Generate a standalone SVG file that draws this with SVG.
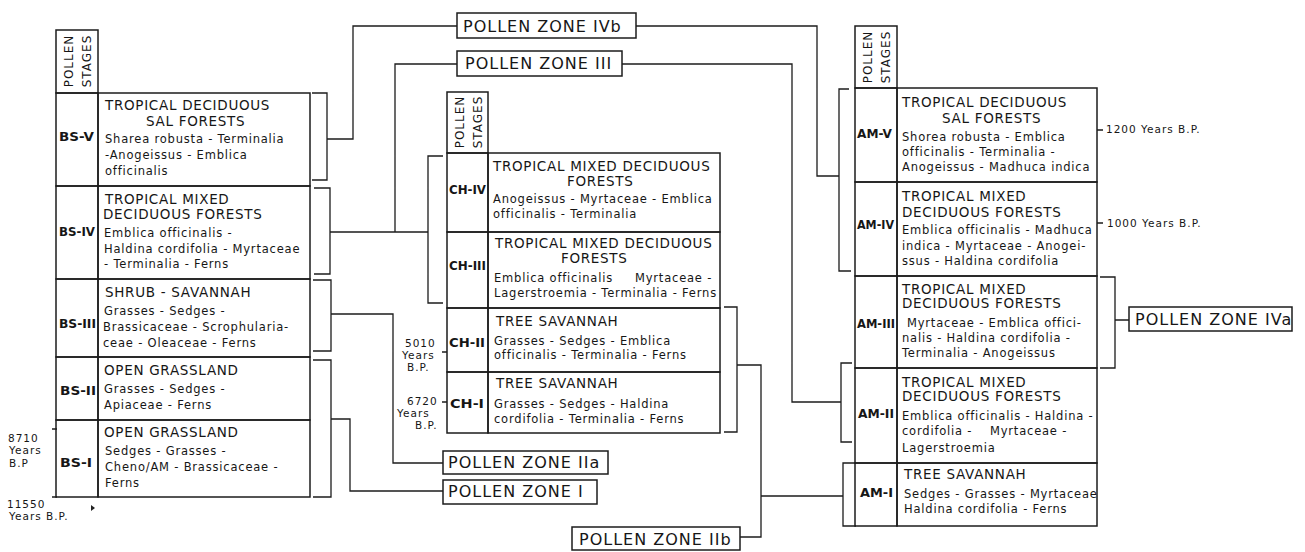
<svg xmlns="http://www.w3.org/2000/svg" width="1305" height="552" viewBox="0 0 1305 552">
<style>
.bx{fill:none;stroke:#1c1c1c;stroke-width:1.5}
.ln{fill:none;stroke:#1c1c1c;stroke-width:1.3}
text{font-family:"DejaVu Sans","Liberation Sans",sans-serif;fill:#161616}
.h{font-size:13.5px;letter-spacing:0.7px}
.s{font-size:11.5px;letter-spacing:0.8px}
.lab{font-size:12.5px;font-weight:bold}
.z{font-size:16px;letter-spacing:1px}
.t{font-size:10.5px;letter-spacing:1px}
.ps{font-size:12px;letter-spacing:1px}
</style>
<rect width="1305" height="552" fill="#fff"/>

<!-- POLLEN STAGES headers -->
<g id="stages-bs">
<rect class="bx" x="56" y="30" width="42" height="63"/>
<text class="ps" font-size="12" transform="translate(73,61) rotate(-90)" text-anchor="middle">POLLEN</text>
<text class="ps" font-size="12" transform="translate(91,61) rotate(-90)" text-anchor="middle">STAGES</text>
</g>
<g id="stages-ch">
<rect class="bx" x="447" y="92" width="41" height="61"/>
<text class="ps" font-size="12" transform="translate(464,122) rotate(-90)" text-anchor="middle">POLLEN</text>
<text class="ps" font-size="12" transform="translate(482,122) rotate(-90)" text-anchor="middle">STAGES</text>
</g>
<g id="stages-am">
<rect class="bx" x="855" y="26" width="42" height="62"/>
<text class="ps" font-size="12" transform="translate(872,57) rotate(-90)" text-anchor="middle">POLLEN</text>
<text class="ps" font-size="12" transform="translate(890,57) rotate(-90)" text-anchor="middle">STAGES</text>
</g>

<!-- BS column -->
<g id="bs-v">
<rect class="bx" x="56" y="93" width="42" height="93"/><rect class="bx" x="98" y="93" width="212" height="93"/>
<text class="lab" x="59" y="141" textLength="35" lengthAdjust="spacingAndGlyphs">BS-V</text>
<text class="h" x="105" y="110">TROPICAL DECIDUOUS</text>
<text class="h" x="146" y="126">SAL FORESTS</text>
<text class="s" x="105" y="143">Sharea robusta - Terminalia</text>
<text class="s" x="105" y="159">-Anogeissus - Emblica</text>
<text class="s" x="105" y="175">officinalis</text>
</g>
<g id="bs-iv">
<rect class="bx" x="56" y="186" width="42" height="93"/><rect class="bx" x="98" y="186" width="212" height="93"/>
<text class="lab" x="59" y="236" textLength="36" lengthAdjust="spacingAndGlyphs">BS-IV</text>
<text class="h" x="105" y="204">TROPICAL MIXED</text>
<text class="h" x="103" y="219">DECIDUOUS FORESTS</text>
<text class="s" x="104" y="237">Emblica officinalis -</text>
<text class="s" x="104" y="253">Haldina cordifolia - Myrtaceae</text>
<text class="s" x="104" y="268">- Terminalia - Ferns</text>
</g>
<g id="bs-iii">
<rect class="bx" x="56" y="279" width="42" height="78"/><rect class="bx" x="98" y="279" width="212" height="78"/>
<text class="lab" x="59" y="328" textLength="37" lengthAdjust="spacingAndGlyphs">BS-III</text>
<text class="h" x="105" y="297">SHRUB - SAVANNAH</text>
<text class="s" x="104" y="315">Grasses - Sedges -</text>
<text class="s" x="103" y="331">Brassicaceae - Scrophularia-</text>
<text class="s" x="103" y="347">ceae - Oleaceae - Ferns</text>
</g>
<g id="bs-ii">
<rect class="bx" x="56" y="357" width="42" height="63"/><rect class="bx" x="98" y="357" width="212" height="63"/>
<text class="lab" x="60" y="395" textLength="36" lengthAdjust="spacingAndGlyphs">BS-II</text>
<text class="h" x="104" y="375">OPEN GRASSLAND</text>
<text class="s" x="104" y="393">Grasses - Sedges -</text>
<text class="s" x="104" y="409">Apiaceae - Ferns</text>
</g>
<g id="bs-i">
<rect class="bx" x="56" y="420" width="42" height="77"/><rect class="bx" x="98" y="420" width="212" height="77"/>
<text class="lab" x="60" y="467" textLength="32" lengthAdjust="spacingAndGlyphs">BS-I</text>
<text class="h" x="104" y="437">OPEN GRASSLAND</text>
<text class="s" x="105" y="455">Sedges - Grasses -</text>
<text class="s" x="105" y="471">Cheno/AM - Brassicaceae -</text>
<text class="s" x="105" y="487">Ferns</text>
</g>

<!-- CH column -->
<g id="ch-iv">
<rect class="bx" x="447" y="153" width="41" height="79"/><rect class="bx" x="488" y="153" width="232" height="79"/>
<text class="lab" x="449" y="194" textLength="37" lengthAdjust="spacingAndGlyphs">CH-IV</text>
<text class="h" x="493" y="171">TROPICAL MIXED DECIDUOUS</text>
<text class="h" x="567" y="186">FORESTS</text>
<text class="s" x="493" y="203">Anogeissus - Myrtaceae - Emblica</text>
<text class="s" x="493" y="218">officinalis - Terminalia</text>
</g>
<g id="ch-iii">
<rect class="bx" x="447" y="232" width="41" height="76"/><rect class="bx" x="488" y="232" width="232" height="76"/>
<text class="lab" x="449" y="270" textLength="37" lengthAdjust="spacingAndGlyphs">CH-III</text>
<text class="h" x="495" y="248">TROPICAL MIXED DECIDUOUS</text>
<text class="h" x="561" y="263">FORESTS</text>
<text class="s" x="494" y="282">Emblica officinalis<tspan x="635">Myrtaceae -</tspan></text>
<text class="s" x="494" y="297">Lagerstroemia - Terminalia - Ferns</text>
</g>
<g id="ch-ii">
<rect class="bx" x="447" y="308" width="41" height="64"/><rect class="bx" x="488" y="308" width="232" height="64"/>
<text class="lab" x="449" y="347" textLength="36" lengthAdjust="spacingAndGlyphs">CH-II</text>
<text class="h" x="496" y="326">TREE SAVANNAH</text>
<text class="s" x="494" y="345">Grasses - Sedges - Emblica</text>
<text class="s" x="494" y="359">officinalis - Terminalia - Ferns</text>
</g>
<g id="ch-i">
<rect class="bx" x="447" y="372" width="41" height="61"/><rect class="bx" x="488" y="372" width="232" height="61"/>
<text class="lab" x="450" y="408" textLength="34" lengthAdjust="spacingAndGlyphs">CH-I</text>
<text class="h" x="496" y="388">TREE SAVANNAH</text>
<text class="s" x="494" y="408">Grasses - Sedges - Haldina</text>
<text class="s" x="494" y="423">cordifolia - Terminalia - Ferns</text>
</g>

<!-- AM column -->
<g id="am-v">
<rect class="bx" x="855" y="88" width="42" height="94"/><rect class="bx" x="897" y="88" width="200" height="94"/>
<text class="lab" x="857" y="138" textLength="35" lengthAdjust="spacingAndGlyphs">AM-V</text>
<text class="h" x="902" y="107">TROPICAL DECIDUOUS</text>
<text class="h" x="942" y="123">SAL FORESTS</text>
<text class="s" x="902" y="141">Shorea robusta - Emblica</text>
<text class="s" x="902" y="156">officinalis - Terminalia -</text>
<text class="s" x="902" y="171">Anogeissus - Madhuca indica</text>
</g>
<g id="am-iv">
<rect class="bx" x="855" y="182" width="42" height="94"/><rect class="bx" x="897" y="182" width="200" height="94"/>
<text class="lab" x="857" y="229" textLength="37" lengthAdjust="spacingAndGlyphs">AM-IV</text>
<text class="h" x="902" y="201">TROPICAL MIXED</text>
<text class="h" x="902" y="217">DECIDUOUS FORESTS</text>
<text class="s" x="902" y="234">Emblica officinalis - Madhuca</text>
<text class="s" x="902" y="250">indica - Myrtaceae - Anogei-</text>
<text class="s" x="902" y="265">ssus - Haldina cordifolia</text>
</g>
<g id="am-iii">
<rect class="bx" x="855" y="276" width="42" height="92"/><rect class="bx" x="897" y="276" width="200" height="92"/>
<text class="lab" x="857" y="328" textLength="38" lengthAdjust="spacingAndGlyphs">AM-III</text>
<text class="h" x="902" y="294">TROPICAL MIXED</text>
<text class="h" x="902" y="308">DECIDUOUS FORESTS</text>
<text class="s" x="907" y="327">Myrtaceae - Emblica offici-</text>
<text class="s" x="902" y="342">nalis - Haldina cordifolia -</text>
<text class="s" x="902" y="357">Terminalia - Anogeissus</text>
</g>
<g id="am-ii">
<rect class="bx" x="855" y="368" width="42" height="95"/><rect class="bx" x="897" y="368" width="200" height="95"/>
<text class="lab" x="858" y="418" textLength="36" lengthAdjust="spacingAndGlyphs">AM-II</text>
<text class="h" x="902" y="387">TROPICAL MIXED</text>
<text class="h" x="902" y="401">DECIDUOUS FORESTS</text>
<text class="s" x="902" y="420">Emblica officinalis - Haldina -</text>
<text class="s" x="902" y="435">cordifolia -<tspan x="990">Myrtaceae -</tspan></text>
<text class="s" x="902" y="452">Lagerstroemia</text>
</g>
<g id="am-i">
<rect class="bx" x="855" y="463" width="42" height="63"/><rect class="bx" x="897" y="463" width="200" height="63"/>
<text class="lab" x="860" y="497" textLength="33" lengthAdjust="spacingAndGlyphs">AM-I</text>
<text class="h" x="904" y="479">TREE SAVANNAH</text>
<text class="s" x="904" y="498">Sedges - Grasses - Myrtaceae</text>
<text class="s" x="904" y="513">Haldina cordifolia - Ferns</text>
</g>

<!-- Pollen zones -->
<g id="zone-ivb"><rect class="bx" x="457" y="13" width="179" height="25"/><text class="z" x="463" y="32">POLLEN ZONE IVb</text></g>
<g id="zone-iii"><rect class="bx" x="457" y="51" width="165" height="25"/><text class="z" x="465" y="69">POLLEN ZONE III</text></g>
<g id="zone-iia"><rect class="bx" x="443" y="451" width="165" height="23"/><text class="z" x="448" y="468">POLLEN ZONE IIa</text></g>
<g id="zone-i"><rect class="bx" x="443" y="480" width="154" height="24"/><text class="z" x="448" y="497">POLLEN ZONE I</text></g>
<g id="zone-iib"><rect class="bx" x="572" y="527" width="168" height="23"/><text class="z" x="579" y="545">POLLEN ZONE IIb</text></g>
<g id="zone-iva"><rect class="bx" x="1129" y="307" width="163" height="24"/><text class="z" x="1135" y="325">POLLEN ZONE IVa</text></g>

<!-- Time labels -->
<g id="time-left">
<text class="t" x="8" y="442">8710</text>
<text class="t" x="9" y="454">Years</text>
<text class="t" x="9" y="467">B.P</text>
<text class="t" x="7" y="508">11550</text>
<text class="t" x="9" y="520">Years B.P.</text>
<path d="M91,505 L95,508 L91,511 Z" fill="#222"/>
</g>
<g id="time-mid">
<text class="t" x="405" y="347">5010</text>
<text class="t" x="402" y="359">Years</text>
<text class="t" x="407" y="371">B.P.</text>
<text class="t" x="407" y="405">6720</text>
<text class="t" x="397" y="417">Years</text>
<text class="t" x="415" y="429">B.P.</text>
</g>
<g id="time-right">
<text class="t" x="1106" y="133">1200 Years B.P.</text>
<text class="t" x="1107" y="227">1000 Years B.P.</text>
</g>

<!-- Connectors -->
<g id="connectors" class="ln">
<path d="M312,93 H327 V180 H312 M327,139 H353 V26 H457"/>
<path d="M636,26 H817 V176 H839 M849,89 H839 V271 H851"/>
<path d="M314,188 H330 V274 H314 M330,232 H428 M457,64 H395 V232 M443,156 H428 V303 H443"/>
<path d="M622,64 H792 V402 H841 M852,363 H841 V442 H852"/>
<path d="M313,280 H331 V351 H313 M331,314 H393 V463 H443"/>
<path d="M313,360 H331 V497 H313 M331,419 H350 V491 H443"/>
<path d="M724,307 H737 V432 H724 M737,365 H761 V537 H740 M761,496 H843 M856,463 H843 V526 H856"/>
<path d="M1100,277 H1115 V368 H1100 M1115,320 H1129"/>
<path d="M52,429 H57 M52,497 H57 M442,352 H447 M442,402 H447 M1097,130 H1103 M1097,223 H1103"/>
</g>
</svg>
